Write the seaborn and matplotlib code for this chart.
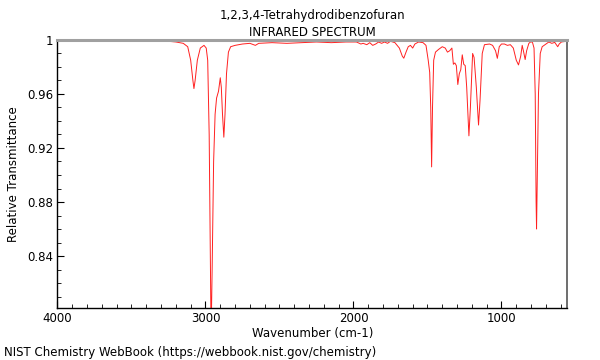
import matplotlib
matplotlib.use('Agg')
import matplotlib.pyplot as plt
from matplotlib.ticker import MultipleLocator, FuncFormatter
import numpy as np
import pandas as pd
import seaborn as sns

sns.set_style('white', {'xtick.bottom': True, 'ytick.left': True,
                        'text.color': 'black', 'axes.labelcolor': 'black',
                        'xtick.color': 'black', 'ytick.color': 'black'})
plt.rcParams['font.family'] = ['DejaVu Sans']

title_lines = ['1,2,3,4-Tetrahydrodibenzofuran', 'INFRARED SPECTRUM']
x_label = 'Wavenumber (cm-1)'
y_label = 'Relative Transmittance'
credit = 'NIST Chemistry WebBook (https://webbook.nist.gov/chemistry)'

# spectrum
wavenumber = [
    4000, 3900, 3800, 3700, 3600, 3500, 3400, 3300, 3250, 3200, 3150, 3120,
    3100, 3085, 3078, 3070, 3055, 3035, 3010, 2995, 2985, 2975, 2968, 2962,
    2955, 2945, 2935, 2925, 2912, 2900, 2893, 2885, 2876, 2868, 2858, 2845,
    2830, 2800, 2750, 2700, 2663, 2640, 2550, 2450, 2350, 2250, 2150, 2050,
    1980, 1950, 1935, 1910, 1890, 1870, 1850, 1830, 1810, 1790, 1770, 1750,
    1720, 1690, 1670, 1660, 1645, 1630, 1615, 1600, 1585, 1560, 1530, 1510,
    1495, 1485, 1478, 1472, 1466, 1458, 1446, 1425, 1400, 1380, 1365, 1350,
    1335, 1325, 1315, 1305, 1295, 1285, 1275, 1265, 1255, 1245, 1235, 1220,
    1210, 1195, 1185, 1170, 1155, 1145, 1130, 1115, 1080, 1060, 1040, 1028,
    1015, 1000, 980, 960, 940, 920, 900, 885, 870, 860, 850, 840,
    830, 815, 800, 790, 780, 772, 766, 763, 758, 750, 738, 725,
    700, 680, 660, 640, 620, 610, 595, 575, 555,
]
transmittance = [
    0.9990, 0.9992, 0.9990, 0.9993, 0.9991, 0.9993, 0.9995, 0.9994, 0.9990, 0.9985, 0.9975, 0.9950,
    0.9850, 0.9700, 0.9640, 0.9700, 0.9850, 0.9940, 0.9960, 0.9940, 0.9850, 0.9300, 0.8500, 0.7800,
    0.8300, 0.9100, 0.9450, 0.9570, 0.9620, 0.9720, 0.9650, 0.9450, 0.9280, 0.9450, 0.9750, 0.9910,
    0.9950, 0.9960, 0.9970, 0.9975, 0.9960, 0.9975, 0.9980, 0.9975, 0.9980, 0.9985, 0.9980, 0.9985,
    0.9985, 0.9970, 0.9975, 0.9965, 0.9980, 0.9960, 0.9970, 0.9985, 0.9975, 0.9985, 0.9975, 0.9990,
    0.9980, 0.9940, 0.9880, 0.9865, 0.9910, 0.9950, 0.9960, 0.9940, 0.9970, 0.9985, 0.9980, 0.9960,
    0.9850, 0.9760, 0.9500, 0.9060, 0.9500, 0.9850, 0.9910, 0.9930, 0.9950, 0.9940, 0.9910, 0.9920,
    0.9940, 0.9820, 0.9830, 0.9810, 0.9670, 0.9750, 0.9780, 0.9890, 0.9820, 0.9810, 0.9650, 0.9290,
    0.9500, 0.9900, 0.9870, 0.9650, 0.9370, 0.9550, 0.9900, 0.9965, 0.9970, 0.9960, 0.9920, 0.9864,
    0.9950, 0.9970, 0.9970, 0.9960, 0.9965, 0.9940, 0.9850, 0.9815, 0.9880, 0.9960, 0.9910, 0.9855,
    0.9920, 0.9975, 0.9988, 0.9980, 0.9940, 0.9600, 0.8800, 0.8600, 0.9000, 0.9600, 0.9900, 0.9950,
    0.9970, 0.9985, 0.9975, 0.9982, 0.9950, 0.9970, 0.9985, 0.9988, 0.9990,
]

df = pd.DataFrame({'wavenumber': wavenumber, 'transmittance': transmittance})

fig = plt.figure(figsize=(6, 3.6), dpi=100)
ax = fig.add_axes([0.0958, 0.1444, 0.85, 0.7446])
sns.lineplot(data=df, x='wavenumber', y='transmittance', ax=ax,
             color='#ff2020', linewidth=0.7, estimator=None, sort=False)

ax.set_xlim(4000, 554)
ax.set_ylim(0.8015, 1.0)
ax.xaxis.set_major_locator(MultipleLocator(1000))
ax.xaxis.set_minor_locator(MultipleLocator(100))
ax.yaxis.set_major_locator(MultipleLocator(0.04))
ax.yaxis.set_minor_locator(MultipleLocator(0.01))
ax.yaxis.set_major_formatter(FuncFormatter(lambda v, p: f'{v:g}'))
ax.tick_params(which='both', direction='in', labelsize=8.5, color='black',
               bottom=True, left=True, top=False, right=False)
ax.tick_params(which='major', length=5, width=0.8, pad=3)
ax.tick_params(which='minor', length=3, width=0.6)

for side in ['left', 'bottom']:
    ax.spines[side].set_color('black')
    ax.spines[side].set_linewidth(1)
ax.spines['top'].set_color('#a0a0a0')
ax.spines['top'].set_linewidth(2.2)
ax.spines['right'].set_color('#555555')
ax.spines['right'].set_linewidth(1.2)

ax.set_xlabel(x_label, fontsize=8.5, labelpad=1)
ax.set_ylabel(y_label, fontsize=8.5, labelpad=5)
ax.set_title('\n'.join(title_lines), fontsize=8.5, pad=3, linespacing=1.35)
fig.text(0.007, 0.004, credit, fontsize=8.5, ha='left', va='bottom')

plt.savefig('out.png', dpi=100)
